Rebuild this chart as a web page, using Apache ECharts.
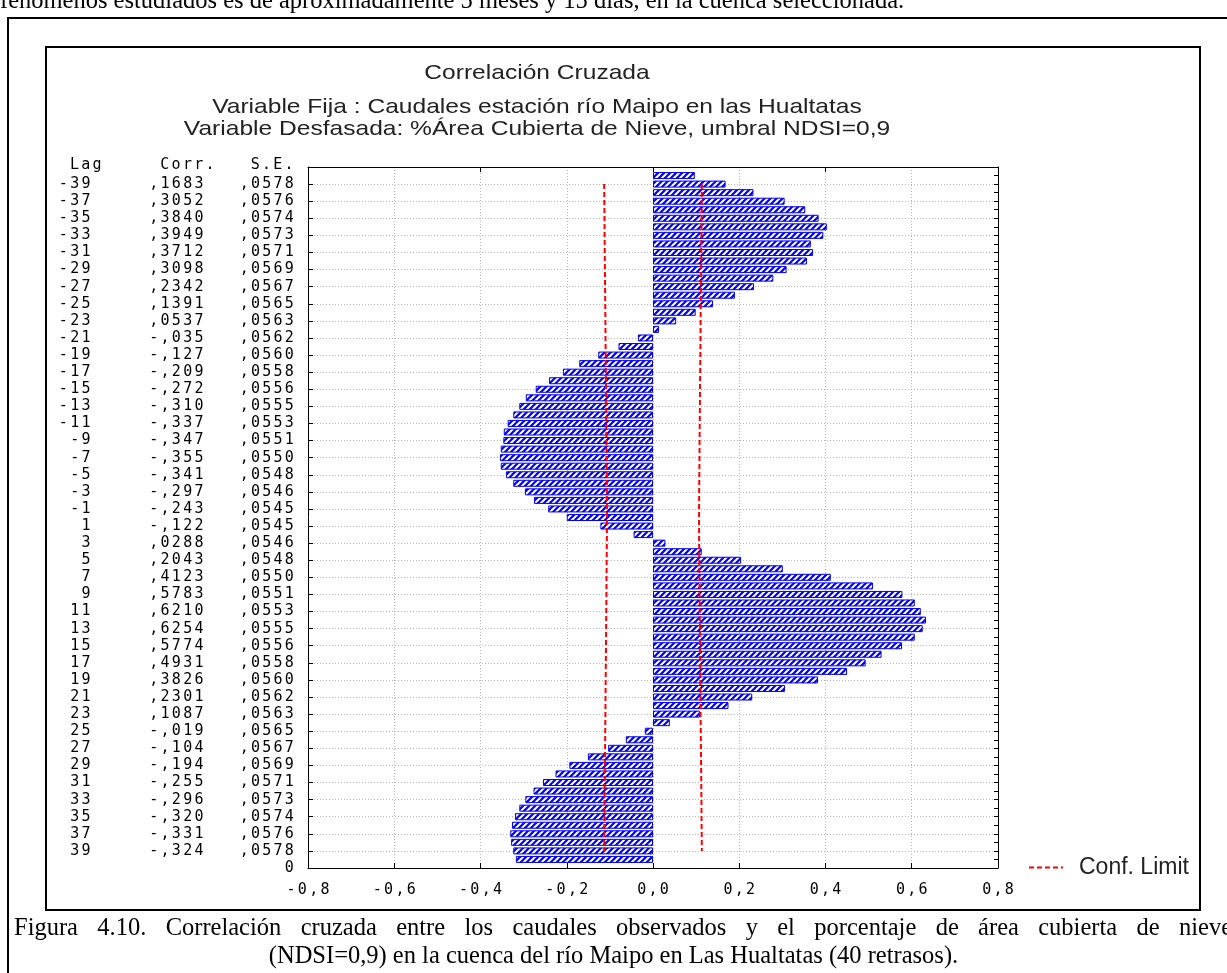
<!DOCTYPE html>
<html><head><meta charset="utf-8">
<script src="https://cdn.jsdelivr.net/npm/echarts@6/dist/echarts.min.js"></script>
<style>html,body{margin:0;padding:0;background:#fff;}#c{width:1227px;height:973px;}</style>
</head><body><div id="c"></div>
<script>
// ---- data ----
const oddLags = [-39,-37,-35,-33,-31,-29,-27,-25,-23,-21,-19,-17,-15,-13,-11,-9,-7,-5,-3,-1,
                 1,3,5,7,9,11,13,15,17,19,21,23,25,27,29,31,33,35,37,39];
const corrOdd = [0.1683,0.3052,0.3840,0.3949,0.3712,0.3098,0.2342,0.1391,0.0537,-0.035,
                 -0.127,-0.209,-0.272,-0.310,-0.337,-0.347,-0.355,-0.341,-0.297,-0.243,
                 -0.122,0.0288,0.2043,0.4123,0.5783,0.6210,0.6254,0.5774,0.4931,0.3826,
                 0.2301,0.1087,-0.019,-0.104,-0.194,-0.255,-0.296,-0.320,-0.331,-0.324];
const seOdd = [0.0578,0.0576,0.0574,0.0573,0.0571,0.0569,0.0567,0.0565,0.0563,0.0562,
               0.0560,0.0558,0.0556,0.0555,0.0553,0.0551,0.0550,0.0548,0.0546,0.0545,
               0.0545,0.0546,0.0548,0.0550,0.0551,0.0553,0.0555,0.0556,0.0558,0.0560,
               0.0562,0.0563,0.0565,0.0567,0.0569,0.0571,0.0573,0.0574,0.0576,0.0578];
// even lags: values
const evenLags = [-40,-38,-36,-34,-32,-30,-28,-26,-24,-22,-20,-18,-16,-14,-12,-10,-8,-6,-4,-2,
                  0,2,4,6,8,10,12,14,16,18,20,22,24,26,28,30,32,34,36,38,40];
const corrEven = [0.097,0.233,0.353,0.403,0.366,0.357,0.279,0.190,0.099,0.014,
                  -0.080,-0.171,-0.241,-0.295,-0.324,-0.346,-0.353,-0.353,-0.324,-0.276,
                  -0.200,-0.045,0.113,0.301,0.510,0.607,0.633,0.607,0.530,0.450,
                  0.306,0.175,0.039,-0.063,-0.151,-0.226,-0.277,-0.310,-0.327,-0.329,-0.318];
const yAxisEnds = [-41, 41];
const bottomLabel = '0';
const xMin = -0.8, xMax = 0.8, xStep = 0.2;
const confZ = 1.96;
const headerText = ' Lag     Corr.   S.E.';
const titleLines = ['Correlación Cruzada',
  'Variable Fija : Caudales estación río Maipo en las Hualtatas',
  'Variable Desfasada: %Área Cubierta de Nieve, umbral NDSI=0,9'];
const legendName = 'Conf. Limit';
const docTopText = 'fenómenos estudiados es de aproximadamente 5 meses y 15 días, en la cuenca seleccionada.';
const caption1 = 'Figura 4.10. Correlación cruzada entre los caudales observados y el porcentaje de área cubierta de nieve';
const caption2 = '(NDSI=0,9) en la cuenca del río Maipo en Las Hualtatas (40 retrasos).';

// ---- build ----
const yCats = [];
for (let l = yAxisEnds[0]; l <= yAxisEnds[1]; l++) yCats.push(String(l));
const valueByLag = {};
oddLags.forEach((l, i) => valueByLag[l] = corrOdd[i]);
evenLags.forEach((l, i) => valueByLag[l] = corrEven[i]);
const barData = yCats.map(c => (valueByLag[c] === undefined ? '-' : valueByLag[c]));

function fmtCorr(v) { return (v < 0 ? '-' : '') + ',' + Math.abs(v).toFixed(v < 0 ? 3 : 4).slice(2); }
function fmtSE(v) { return ',' + v.toFixed(4).slice(2); }
const rowText = {};
oddLags.forEach((l, i) => {
  rowText[String(l)] = String(l).padStart(3) + fmtCorr(corrOdd[i]).padStart(10) + fmtSE(seOdd[i]).padStart(8);
});
rowText[String(yAxisEnds[1])] = bottomLabel.padStart(21);

const CELL = 11.3;
const MONO = 'DejaVu Sans Mono';
function cells(s) { return s.split('').map(ch => '{c|' + ch + '}').join(''); }
const cellRich = { c: { width: CELL, align: 'center', fontFamily: MONO, fontSize: 15, color: '#000', lineHeight: 15 } };

// hatch pattern for bars
const pc = document.createElement('canvas');
pc.width = 6; pc.height = 6;
const g = pc.getContext('2d');
g.fillStyle = '#0000ff'; g.fillRect(0, 0, 6, 6);
g.strokeStyle = '#ffffff'; g.lineWidth = 2;
g.beginPath();
g.moveTo(-1, 7); g.lineTo(7, -1);
g.moveTo(-4, 4); g.lineTo(4, -4);
g.moveTo(2, 10); g.lineTo(10, 2);
g.stroke();

const gridLine = { color: '#b8b8b8', type: [1, 2], width: 1 };
const confLine = { color: '#ff0000', width: 2, type: [5, 3] };

// justified text line (caption first line)
const mc = document.createElement('canvas').getContext('2d');
function justified(line, x0, x1, y, size, family) {
  mc.font = size + 'px "' + family + '"';
  const words = line.split(' ');
  const w = words.map(t => mc.measureText(t).width);
  const tot = w.reduce((a, b) => a + b, 0);
  const gap = (x1 - x0 - tot) / (words.length - 1);
  let x = x0;
  return words.map((t, i) => {
    const el = { type: 'text', x: x, y: y, silent: true,
      style: { text: t, fontSize: size, fontFamily: family, fill: '#000', verticalAlign: 'middle', align: 'left' } };
    x += w[i] + gap;
    return el;
  });
}

const chart = echarts.init(document.getElementById('c'));
const option = {
  animation: false,
  backgroundColor: '#fff',
  grid: { left: 308, top: 167, width: 690, height: 701 },
  legend: {
    data: [legendName], left: 1023, top: 851, itemWidth: 34, itemHeight: 14,
    itemStyle: { opacity: 0 },
    textStyle: { fontFamily: 'Liberation Sans', fontSize: 23, color: '#222', padding: [0, 0, 0, 11] }
  },
  xAxis: [{
    type: 'value', min: xMin, max: xMax, interval: xStep, position: 'bottom',
    axisLine: { show: true, onZero: false, lineStyle: { color: '#000', width: 1 } },
    axisTick: { show: true, inside: true, length: 5, lineStyle: { color: '#000' } },
    axisLabel: { margin: 15, formatter: v => cells((v < 0 ? '-' : '') + Math.abs(v).toFixed(1).replace('.', ',')), rich: cellRich },
    splitLine: { show: true, lineStyle: gridLine }
  }, {
    type: 'value', min: xMin, max: xMax, interval: 2 * xStep, position: 'top',
    axisLine: { show: true, onZero: false, lineStyle: { color: '#000', width: 1 } },
    axisTick: { show: true, inside: true, length: 5, lineStyle: { color: '#000' } },
    axisLabel: { show: false }, splitLine: { show: false }
  }],
  yAxis: [{
    type: 'category', data: yCats, inverse: true, boundaryGap: false, position: 'left',
    axisLine: { show: true, onZero: false, lineStyle: { color: '#000', width: 1 } },
    axisTick: { show: true, inside: true, length: 5, interval: i => i % 2 === 0, lineStyle: { color: '#000' } },
    axisLabel: { show: true, margin: 13, interval: i => i % 2 === 0 && i > 0,
      formatter: v => cells(rowText[v] || ''), rich: cellRich },
    splitLine: { show: true, interval: i => i % 2 === 0 && i > 0 && i < yCats.length - 1, lineStyle: gridLine }
  }, {
    type: 'category', data: yCats, inverse: true, boundaryGap: false, position: 'right',
    axisLine: { show: true, onZero: false, lineStyle: { color: '#000', width: 1 } },
    axisTick: { show: true, inside: true, length: 4, interval: 0, lineStyle: { color: '#000' } },
    axisLabel: { show: false }, splitLine: { show: false }
  }],
  series: [{
    type: 'bar', name: 'Corr.', data: barData, xAxisIndex: 0, yAxisIndex: 0, barWidth: 7, silent: true,
    itemStyle: { color: { image: pc, repeat: 'repeat' }, borderColor: '#0000ff', borderWidth: 1 }
  }, {
    type: 'line', name: legendName, xAxisIndex: 0, yAxisIndex: 0, symbol: 'none', silent: true,
    data: oddLags.map((l, i) => [confZ * seOdd[i], String(l)]),
    lineStyle: confLine, itemStyle: { color: '#ff0000' }
  }, {
    type: 'line', name: legendName, xAxisIndex: 0, yAxisIndex: 0, symbol: 'none', silent: true,
    data: oddLags.map((l, i) => [-confZ * seOdd[i], String(l)]),
    lineStyle: confLine, itemStyle: { color: '#ff0000' }
  }],
  graphic: [
    { type: 'polyline', silent: true, shape: { points: [[8, 980], [8, 18], [1240, 18]] }, style: { stroke: '#000', lineWidth: 2, fill: null } },
    { type: 'rect', silent: true, shape: { x: 46, y: 47, width: 1154, height: 863 }, style: { stroke: '#000', lineWidth: 2, fill: null } },
    { type: 'text', silent: true, x: 537, y: 73, scaleX: 1.17, style: { text: titleLines[0], fontSize: 21, fontFamily: 'Liberation Sans', fill: '#222', align: 'center', verticalAlign: 'middle' } },
    { type: 'text', silent: true, x: 537, y: 107, scaleX: 1.17, style: { text: titleLines[1], fontSize: 21, fontFamily: 'Liberation Sans', fill: '#222', align: 'center', verticalAlign: 'middle' } },
    { type: 'text', silent: true, x: 537, y: 129, scaleX: 1.17, style: { text: titleLines[2], fontSize: 21, fontFamily: 'Liberation Sans', fill: '#222', align: 'center', verticalAlign: 'middle' } },
    { type: 'text', silent: true, x: 57.45, y: 165, style: { text: cells(headerText), rich: cellRich, align: 'left', verticalAlign: 'middle' } },
    { type: 'text', silent: true, x: 0, y: 2, style: { text: docTopText, fontSize: 24.5, fontFamily: 'Liberation Serif', fill: '#000', align: 'left', verticalAlign: 'middle' } },
    ...justified(caption1, 14, 1232, 929, 24.5, 'Liberation Serif'),
    { type: 'text', silent: true, x: 613.5, y: 957, style: { text: caption2, fontSize: 24.5, fontFamily: 'Liberation Serif', fill: '#000', align: 'center', verticalAlign: 'middle' } }
  ]
};
chart.setOption(option);
</script></body></html>
